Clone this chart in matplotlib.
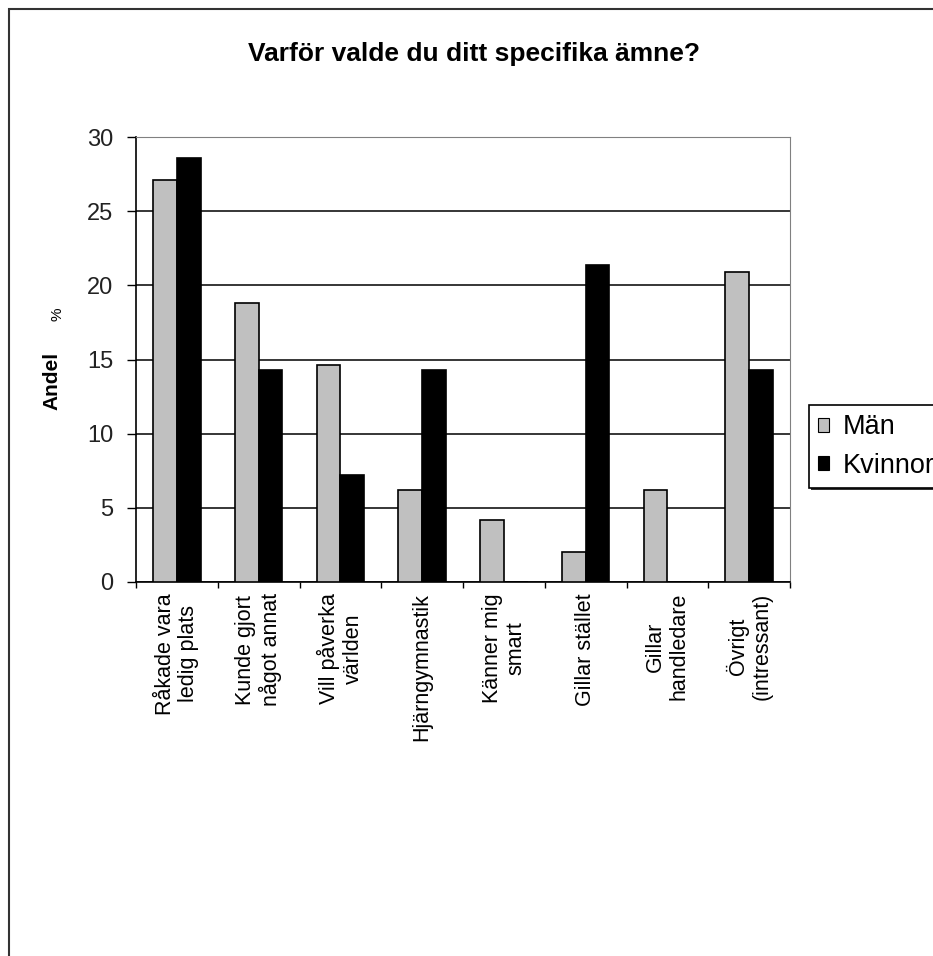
import numpy as np
import matplotlib.pyplot as plt
from matplotlib.patches import Rectangle

plt.rcParams['font.family'] = ['Liberation Sans', 'DejaVu Sans']

categories = ["Råkade vara\nledig plats", "Kunde gjort\nnågot annat", "Vill påverka\nvärlden",
              "Hjärngymnastik", "Känner mig\nsmart", "Gillar stället", "Gillar\nhandledare",
              "Övrigt\n(intressant)"]
man = [27.1, 18.8, 14.6, 6.2, 4.2, 2.0, 6.2, 20.9]
kvinnor = [28.6, 14.3, 7.2, 14.3, 0, 21.4, 0, 14.3]
series_names = ["Män", "Kvinnor"]
title = "Varför valde du ditt specifika ämne?"

W, H = 933, 956
fig = plt.figure(figsize=(W / 100, H / 100), dpi=100)
fig.patch.set_facecolor('white')

# outer chart frame (cut off at right and bottom)
fig.patches.append(Rectangle((9 / W, -0.05), 1.1, 1 - 9 / H + 0.05, transform=fig.transFigure,
                             fill=False, edgecolor='#333333', linewidth=1.5))

ax = fig.add_axes([136 / W, 1 - 582 / H, 654 / W, 445 / H])
x = np.arange(len(categories))
bw = 0.29
ax.bar(x - bw / 2, man, bw, color='#c0c0c0', edgecolor='black', linewidth=1.2, label=series_names[0], zorder=3)
ax.bar(x + bw / 2, kvinnor, bw, color='black', edgecolor='black', linewidth=1.2, label=series_names[1], zorder=3)

ax.set_xlim(-0.5, len(categories) - 0.5)
ax.set_ylim(0, 30)
ax.set_yticks(np.arange(0, 31, 5))
ax.yaxis.grid(True, color='black', linewidth=1.1, zorder=0)
ax.tick_params(axis='y', direction='out', length=6.5, width=1, pad=10, labelsize=17, labelcolor='#222222')

ax.set_xticks(np.arange(-0.5, len(categories), 1))
ax.set_xticklabels([])
ax.tick_params(axis='x', which='major', direction='out', length=4.5, width=1)
ax.set_xticks(x, minor=True)
ax.set_xticklabels(categories, minor=True, rotation=90, ha='center', va='top',
                   multialignment='center', fontsize=15.5, linespacing=1.15)
ax.tick_params(axis='x', which='minor', length=0, pad=8)

for s in ['top', 'right']:
    ax.spines[s].set_color('#808080')
for s in ['left', 'bottom']:
    ax.spines[s].set_color('black')
    ax.spines[s].set_linewidth(1.2)

fig.text(474 / W, 1 - 54 / H, title, ha='center', va='center', fontsize=19, fontweight='bold')
fig.text(52 / W, 1 - 381 / H, "Andel", rotation=90, ha='center', va='center', fontsize=15, fontweight='bold')
fig.text(57 / W, 1 - 314 / H, "%", rotation=90, ha='center', va='center', fontsize=11)

leg = fig.legend(loc='upper left', bbox_to_anchor=(809 / W, 1 - 405 / H), bbox_transform=fig.transFigure,
                 fontsize=19.5, frameon=True, fancybox=False, framealpha=1, borderaxespad=0,
                 handlelength=0.4, handleheight=0.4, handletextpad=0.5, borderpad=0.35, labelspacing=0.45)
leg.get_frame().set_edgecolor('black')
leg.get_frame().set_facecolor('white')
leg.get_frame().set_linewidth(1.2)
leg.set_zorder(6)
for h in leg.legend_handles:
    h.set_linewidth(0.8)

# thin drop shadow under the legend box
fig.canvas.draw()
bb = leg.get_window_extent()
fig.patches.append(Rectangle((bb.x0 + 2, bb.y0 - 2), bb.width, bb.height, transform=None,
                             facecolor='#333333', edgecolor='none', zorder=5))

fig.savefig('out.png', dpi=100)
